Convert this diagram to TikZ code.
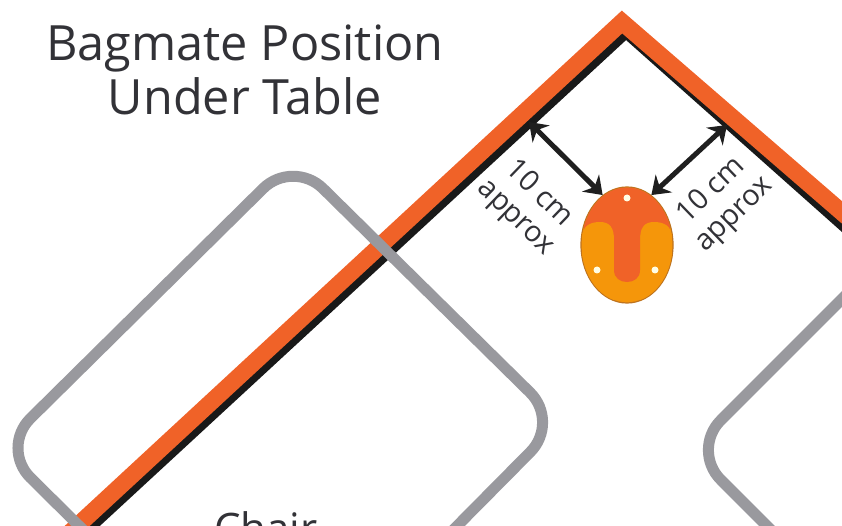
\documentclass[tikz,border=0pt]{standalone}
\usepackage{fontspec}
\setmainfont{Open Sans}
\usetikzlibrary{arrows.meta, shapes.geometric, calc}
\definecolor{torng} {RGB}{240, 98, 40}
\definecolor{bamber}{RGB}{245,150, 10}
\definecolor{bedge} {RGB}{190,115, 30}
\definecolor{cgray} {RGB}{153,153,158}
\definecolor{tdark} {RGB}{ 50, 50, 55}
\tikzset{
  % Table edge, orange over black
  TableO/.style={draw=torng,line width=17pt,miter limit=10},
  TableK/.style={draw=black!90,line width=9pt,miter limit=10},
  % Grey chair outline
  ChairL/.style={draw=cgray,line width=11pt,rounded corners=42pt},
  % Texts
  Title/.style={font=\fontsize{48.6}{54}\selectfont,text=tdark,align=center,inner sep=0pt},
  Dim/.style={font=\fontsize{29}{33}\selectfont,text=tdark,align=center,inner sep=0pt},
  % Double arrows
  DArr/.style={{Stealth[length=17pt,width=24pt]}-{Stealth[length=17pt,width=24pt]},
               line width=5pt,color=black!88},
  % Small holes of the bagmate
  Hole/.style={circle,fill=white!90!yellow,inner sep=0pt,minimum size=7pt},
}
\begin{document}
\begin{tikzpicture}[x=1pt,y=-1pt]
  \useasboundingbox (0,0) rectangle (842,526);
  \clip (0,0) rectangle (842,526);
  \fill[white] (0,0) rectangle (842,526);
  % table corner
  \draw[TableK] (84.5,534) -- (626,34) -- (860,242);
  \draw[TableO] (68.5,534) -- (622,22) -- (860,228);
  % chairs
  \draw[ChairL] (0.5,448) -- (293,159) -- (560,422) -- (270,715) -- cycle;
  \draw[ChairL] (1000,141) -- (691,450) -- (900,659);
  % bagmate
  \node[ellipse,draw=bedge,line width=1.2pt,fill=bamber,inner sep=0pt,
        minimum width=92pt,minimum height=116pt] at (627,245) (bag) {};
  \begin{scope}
    \clip (627,245) ellipse (45.5 and 57.5);
    \fill[torng] (570,180) rectangle (685,222);
    \fill[torng] (584,240) -- (584,222) -- (670,222) -- (670,240) -- cycle;
    \fill[bamber] (582,300) -- (582,238) .. controls (582,226) and (590,222) .. (600,222)
      .. controls (610,222) and (614,228) .. (614,240) -- (614,300) -- cycle;
    \fill[bamber] (672,300) -- (672,238) .. controls (672,226) and (664,222) .. (654,222)
      .. controls (644,222) and (640,228) .. (640,240) -- (640,300) -- cycle;
    \fill[torng] (614,225) -- (614,270) .. controls (614,278) and (620,282) .. (627,282)
      .. controls (634,282) and (640,278) .. (640,270) -- (640,225) -- cycle;
  \end{scope}
  \node[Hole] at (627,198) (hn) {};
  \node[Hole] at (597,270) (hl) {};
  \node[Hole] at (655,270) (hr) {};
  % dimension arrows
  \coordinate (wl) at (529,122);
  \coordinate (wr) at (727,125);
  \draw[DArr] (wl) -- (bag.116);
  \draw[DArr] (wr) -- (bag.64);
  % labels
  \node[Title] at (245,70) (title) {Bagmate Position\\Under Table};
  \node[Dim,rotate=-44] at (527,206) (dl) {10 cm\\approx};
  \node[Dim,rotate=44] at (723,203) (dr) {10 cm\\approx};
  \node[font=\fontsize{42}{46}\selectfont,text=tdark,inner sep=0pt,anchor=base] at (266,543) (chair) {Chair};
\end{tikzpicture}
\end{document}
